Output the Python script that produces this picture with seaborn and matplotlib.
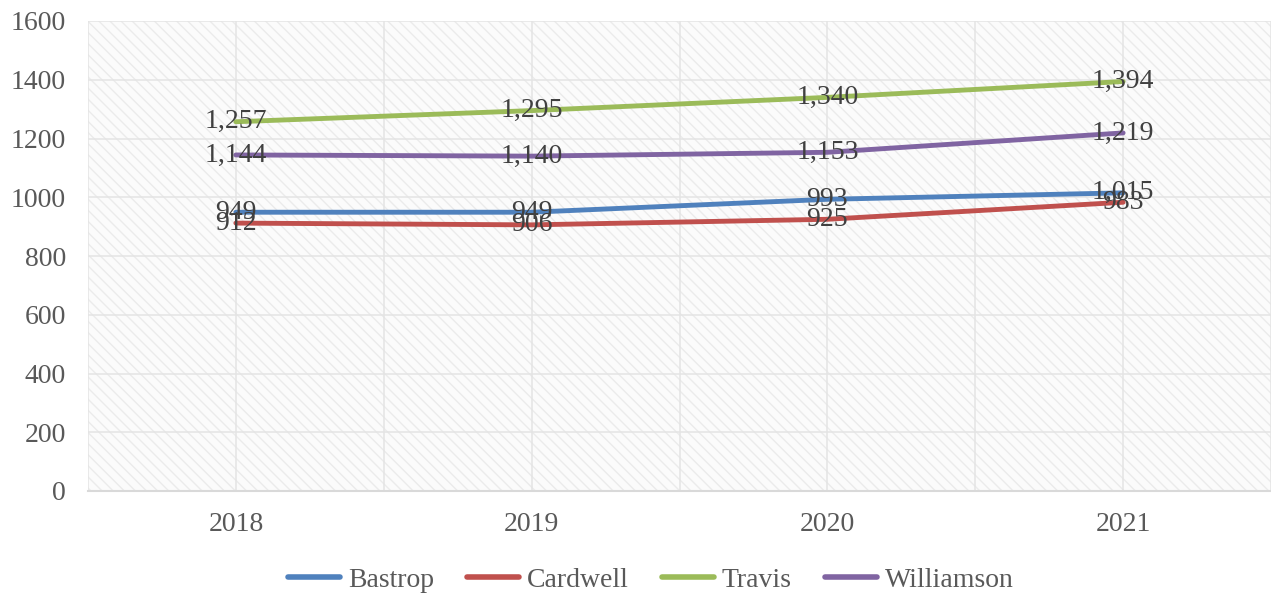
import matplotlib
matplotlib.use("Agg")
import matplotlib.pyplot as plt
import seaborn as sns
import pandas as pd
from matplotlib.patches import Rectangle

years = ["2018", "2019", "2020", "2021"]
bastrop = [949, 949, 993, 1015]
cardwell = [912, 906, 925, 983]
travis = [1257, 1295, 1340, 1394]
williamson = [1144, 1140, 1153, 1219]

series = {"Bastrop": bastrop, "Cardwell": cardwell, "Travis": travis, "Williamson": williamson}
colors = {"Bastrop": "#4F81BD", "Cardwell": "#C0504D", "Travis": "#9BBB59", "Williamson": "#8064A2"}

rows = []
for name, vals in series.items():
    for i, v in enumerate(vals):
        rows.append({"idx": i, "value": v, "county": name})
df = pd.DataFrame(rows)

sns.set_theme(style="white")
plt.rcParams["font.family"] = ["Liberation Serif", "DejaVu Serif"]
plt.rcParams["hatch.linewidth"] = 1.0

fig = plt.figure(figsize=(12.71, 5.93), dpi=100)
ax = fig.add_axes([88 / 1271, 1 - 491 / 593, 1 - 88 / 1271, (491 - 21) / 593])

# faint diagonal hatch behind the plot area
bg = Rectangle((0, 0), 1, 1, transform=ax.transAxes, facecolor="#fbfbfb",
               edgecolor="#ebebeb", hatch="\\\\\\", linewidth=0, zorder=0)
ax.add_patch(bg)

sns.lineplot(data=df, x="idx", y="value", hue="county", palette=colors,
             linewidth=3.5, ax=ax, zorder=3, legend=True)

ax.set_xlim(-0.5, 3.5)
ax.set_ylim(0, 1600)
ax.set_yticks(range(0, 1601, 200))
ax.set_xticks(range(len(years)))
ax.set_xticklabels(years)

ax.grid(False)
for k in range(9):
    ax.axvline(-0.5 + k * 0.5, color="#e4e4e4", linewidth=1.1, zorder=1)
for yv in range(200, 1601, 200):
    ax.axhline(yv, color="#e4e4e4", linewidth=1.1, zorder=1)

for s in ["top", "right", "left"]:
    ax.spines[s].set_visible(False)
ax.spines["bottom"].set_color("#d9d9d9")
ax.spines["bottom"].set_linewidth(1.5)

ax.tick_params(axis="both", which="both", length=0, labelsize=20, labelcolor="#595959")
ax.tick_params(axis="y", pad=16)
ax.tick_params(axis="x", pad=15)
ax.set_xlabel("")
ax.set_ylabel("")

# value labels centred on each point
for name, vals in series.items():
    for i, v in enumerate(vals):
        ax.text(i, v, f"{v:,}", ha="center", va="center", fontsize=20,
                color="#404040", zorder=5)

handles, labels = ax.get_legend_handles_labels()
leg = ax.legend(handles, labels, loc="center", bbox_to_anchor=((651 - 88) / 1183, -0.19),
                ncol=4, frameon=False, fontsize=20, handlelength=1.85, handletextpad=0.3,
                columnspacing=1.2)
for t in leg.get_texts():
    t.set_color("#595959")
for ln in leg.get_lines():
    ln.set_linewidth(4)
    ln.set_solid_capstyle("round")

fig.savefig("out.png", dpi=100)
